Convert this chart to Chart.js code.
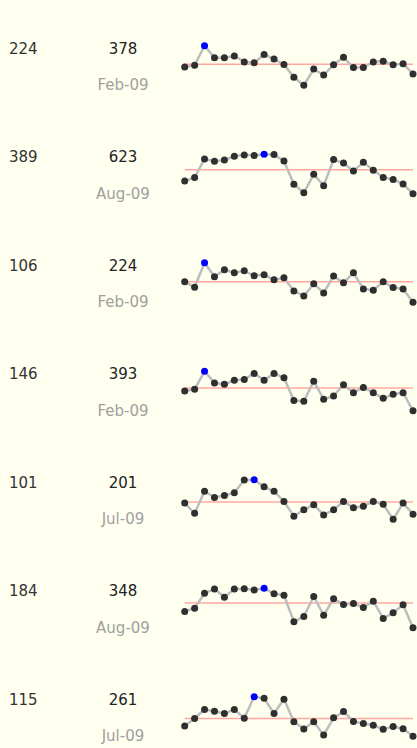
<!DOCTYPE html>
<html>
<head>
<meta charset="utf-8">
<script src="https://cdn.jsdelivr.net/npm/chart.js@4.4.1/dist/chart.umd.min.js"></script>
<style>
html, body { margin: 0; padding: 0; background: #fffff0; }
body { width: 417px; height: 748px; position: relative; overflow: hidden; font-family: "DejaVu Sans", Verdana, sans-serif; }
.lo, .hi, .when { position: absolute; font-size: 15px; line-height: 16px; white-space: nowrap; }
.lo { left: 9px; color: #333; }
.hi { left: 83px; width: 80px; text-align: center; color: #222; }
.when { left: 83px; width: 80px; text-align: center; color: #a0a0a0; }
.spark { position: absolute; left: 170px; width: 247px; height: 80px; }
</style>
</head>
<body>
<script>
const months = ['Dec-08', 'Jan-09', 'Feb-09', 'Mar-09', 'Apr-09', 'May-09', 'Jun-09', 'Jul-09',
    'Aug-09', 'Sep-09', 'Oct-09', 'Nov-09', 'Dec-09', 'Jan-10', 'Feb-10', 'Mar-10',
    'Apr-10', 'May-10', 'Jun-10', 'Jul-10', 'Aug-10', 'Sep-10', 'Oct-10', 'Nov-10'];

const series1 = [295, 302, 378, 331, 331, 338, 315, 312, 344, 326, 305, 255, 224, 287, 264, 304, 333, 293, 293, 315, 318, 304, 308, 268];
const series2 = [464, 486, 595, 581, 589, 611, 619, 615, 623, 621, 583, 445, 395, 504, 437, 591, 571, 524, 575, 528, 486, 474, 447, 389];
const series3 = [167, 151, 224, 182, 203, 194, 200, 185, 188, 173, 179, 140, 125, 161, 134, 184, 164, 194, 146, 142, 167, 150, 146, 106];
const series4 = [270, 280, 393, 319, 311, 337, 342, 379, 337, 379, 352, 210, 206, 331, 218, 239, 309, 259, 292, 259, 224, 249, 259, 146];
const series5 = [142, 116, 172, 156, 161, 168, 200, 201, 183, 172, 146, 109, 125, 138, 112, 125, 146, 130, 134, 146, 139, 101, 142, 114];
const series6 = [252, 265, 327, 345, 311, 345, 346, 341, 348, 325, 319, 209, 231, 314, 236, 304, 280, 285, 268, 294, 223, 246, 279, 184];
const series7 = [153, 181, 214, 207, 199, 214, 182, 261, 255, 199, 252, 169, 142, 169, 120, 183, 206, 170, 162, 156, 141, 151, 143, 115];

const rows = [series1, series2, series3, series4, series5, series6, series7];

const rowStep = 108.5;

function addText(cls, text, top) {
    const el = document.createElement('div');
    el.className = cls;
    el.textContent = text;
    el.style.top = top + 'px';
    document.body.appendChild(el);
}

rows.forEach((values, k) => {
    const hi = Math.max(...values);
    const lo = Math.min(...values);
    const hiIdx = values.indexOf(hi);
    const mean = values.reduce((a, b) => a + b, 0) / values.length;

    const base = k * rowStep;
    addText('lo', String(lo), base + 40.5);
    addText('hi', String(hi), base + 40.5);
    addText('when', months[hiIdx], base + 77);

    // sparkline
    const areaTop = 45.7 + base;
    const canvasTop = Math.floor(areaTop) - 20;
    const padTop = areaTop - canvasTop;
    const wrap = document.createElement('div');
    wrap.className = 'spark';
    wrap.style.top = canvasTop + 'px';
    const canvas = document.createElement('canvas');
    wrap.appendChild(canvas);
    document.body.appendChild(wrap);

    new Chart(canvas.getContext('2d'), {
        type: 'line',
        data: {
            labels: months,
            datasets: [
                {
                    data: values,
                    borderColor: '#bdbdbd',
                    borderWidth: 2.5,
                    pointRadius: 3.5,
                    pointBorderWidth: 0,
                    pointBackgroundColor: values.map((v, i) => i === hiIdx ? '#0000ff' : '#2f2f2f'),
                    tension: 0,
                    clip: false,
                    order: 0
                },
                {
                    data: values.map(() => mean),
                    borderColor: 'rgba(255, 110, 110, 0.6)',
                    borderWidth: 1.5,
                    pointRadius: 0,
                    clip: false,
                    order: 1
                }
            ]
        },
        options: {
            responsive: true,
            maintainAspectRatio: false,
            animation: false,
            events: [],
            layout: { padding: { left: 14.7, right: 3.3, top: padTop, bottom: 80 - padTop - 39.6 } },
            plugins: { legend: { display: false }, tooltip: { enabled: false } },
            scales: {
                x: { display: false, offset: false },
                y: { display: false, min: lo, max: hi }
            }
        }
    });
});
</script>
</body>
</html>
